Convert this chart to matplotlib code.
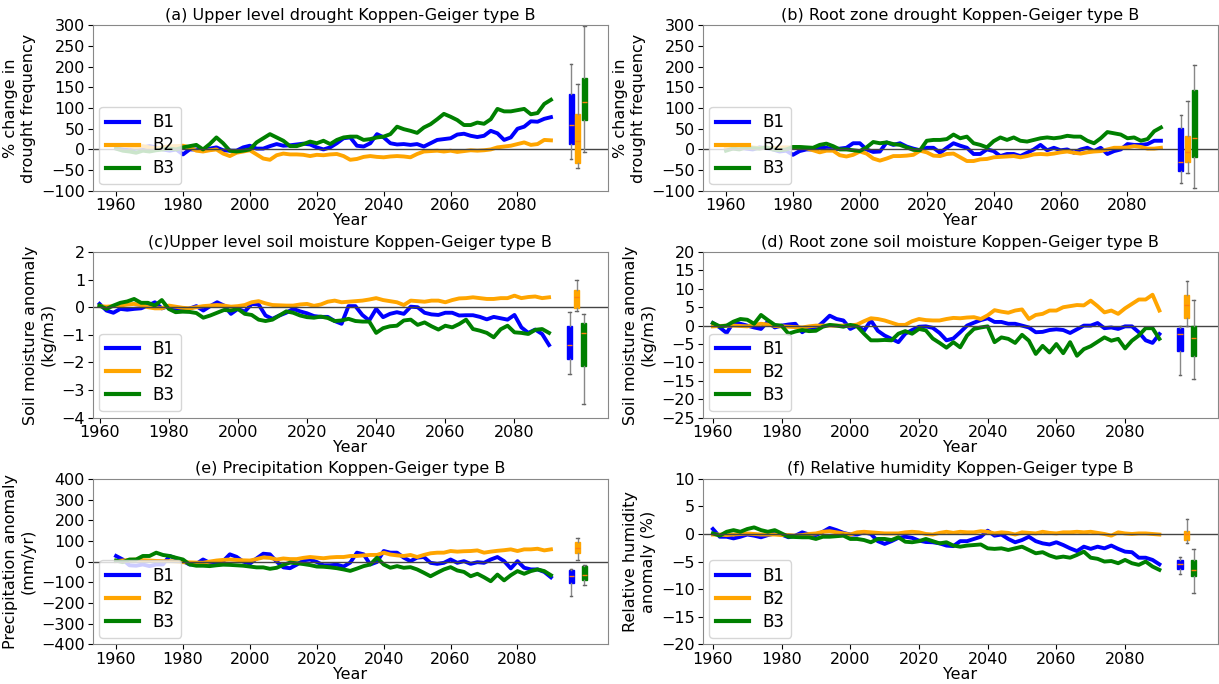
import numpy as np
import matplotlib
matplotlib.use("Agg")
import matplotlib.pyplot as plt

# yearly values sampled every 2 years, 1960-2090
YEARS = np.arange(1960, 2091, 2)
SERIES_NAMES = ["B1", "B2", "B3"]
COLORS = ["blue", "orange", "green"]
BOX_POS = [2096, 2098, 2100]

# (a) upper level drought, % change
a_b1 = [3, 0, -2, 2, 5, 8, 5, 0, -3, 0,
        -12, 0, 0, -2, 2, 5, -2, -3, -3, 5,
        9, 2, 2, 8, 13, 9, 10, 12, 14, 12,
        5, 0, 5, 15, 27, 29, 9, 7, 15, 37,
        29, 15, 12, 13, 11, 13, 7, 15, 23, 25,
        27, 36, 38, 33, 30, 33, 45, 39, 23, 29,
        50, 55, 68, 67, 74, 78]
a_b2 = [10, 10, 8, 5, 8, 5, 3, 5, 8, 8,
        9, 5, -3, -5, -2, 0, -10, -16, -8, -5,
        -2, -12, -22, -25, -14, -10, -12, -12, -13, -16,
        -13, -14, -12, -11, -16, -25, -23, -18, -16, -18,
        -19, -17, -16, -17, -19, -11, -5, -4, -3, -5,
        -3, -6, -4, -2, -3, -2, 0, 5, 7, 9,
        13, 17, 11, 13, 23, 22]
a_b3 = [2, -3, -5, -8, -3, -5, -2, 0, 2, 0,
        5, 8, 11, 0, 13, 29, 15, -3, -5, -3,
        0, 17, 27, 37, 29, 21, 8, 8, 13, 19,
        15, 21, 13, 23, 29, 31, 31, 23, 25, 29,
        31, 37, 55, 49, 45, 40, 53, 61, 73, 86,
        79, 71, 59, 59, 65, 62, 73, 98, 92, 92,
        95, 98, 85, 88, 110, 120]

# (b) root zone drought, % change
b_b1 = [0, 3, 5, 2, 0, 5, 3, 0, -5, -3,
        -13, -4, 0, 0, 4, 4, 0, 2, 4, 15,
        15, 0, -6, -5, 17, 11, 15, 7, 2, -2,
        4, 4, -8, 4, 15, 9, 4, -11, -11, 0,
        -4, -16, -11, -11, -16, -8, 0, 11, -2, 4,
        -2, 0, -8, 0, 4, -4, 4, -11, -4, 0,
        13, 11, 11, 13, 21, 21]
b_b2 = [5, 3, 5, 8, 5, 3, 5, 3, 5, 5,
        5, 5, 3, -2, -7, -3, -3, -14, -17, -13,
        -5, -10, -22, -27, -22, -16, -16, -15, -13, -3,
        -7, -15, -16, -11, -10, -19, -28, -28, -24, -23,
        -19, -18, -17, -16, -19, -16, -12, -11, -12, -10,
        -7, -5, -8, -10, -7, -5, -4, 0, 4, 4,
        5, 8, 6, 2, 2, 4]
b_b3 = [-3, 2, 0, 5, 3, 2, 5, 0, -2, 0,
        6, 6, 5, 4, 11, 14, 8, 0, 0, -2,
        -4, 5, 18, 15, 17, 13, 11, 5, -1, -2,
        21, 23, 23, 25, 36, 27, 31, 15, 11, 5,
        20, 29, 23, 29, 21, 19, 23, 27, 29, 27,
        29, 33, 31, 31, 21, 15, 27, 42, 39, 36,
        27, 29, 21, 25, 44, 53]

# (c) upper level soil moisture anomaly, kg/m3
c_b1 = [0.12, -0.12, -0.2, -0.06, -0.09, -0.06, -0.04, 0.06, 0.18, -0.04,
        0.04, -0.09, -0.1, -0.05, 0.04, -0.12, 0.04, 0.18, 0.06, -0.24,
        -0.06, -0.16, 0.12, 0.1, -0.3, -0.42, -0.3, -0.2, -0.06, -0.15,
        -0.22, -0.32, -0.35, -0.35, -0.5, -0.6, 0.04, 0.04, -0.28, -0.48,
        -0.06, -0.36, -0.24, -0.18, -0.24, 0.02, 0.0, -0.2, -0.26, -0.28,
        -0.2, -0.2, -0.3, -0.29, -0.29, -0.35, -0.44, -0.35, -0.4, -0.45,
        -0.28, -0.73, -0.93, -0.81, -0.97, -1.37]
c_b2 = [0.04, 0.02, 0.04, 0.06, 0.1, 0.12, 0.08, 0.0, -0.04, -0.04,
        0.06, 0.02, -0.02, -0.04, 0.0, 0.04, 0.06, 0.08, 0.06, 0.02,
        0.04, 0.08, 0.18, 0.22, 0.14, 0.08, 0.07, 0.06, 0.06, 0.1,
        0.12, 0.05, 0.1, 0.2, 0.24, 0.18, 0.2, 0.22, 0.24, 0.28,
        0.33, 0.26, 0.22, 0.18, 0.08, 0.24, 0.22, 0.2, 0.24, 0.24,
        0.18, 0.26, 0.32, 0.33, 0.36, 0.33, 0.3, 0.3, 0.33, 0.33,
        0.42, 0.33, 0.37, 0.39, 0.33, 0.36]
c_b3 = [0.06, -0.06, 0.06, 0.16, 0.21, 0.3, 0.16, 0.16, 0.06, 0.26,
        -0.06, -0.18, -0.16, -0.17, -0.21, -0.38, -0.3, -0.2, -0.1, -0.12,
        -0.06, -0.24, -0.28, -0.45, -0.5, -0.45, -0.3, -0.15, -0.2, -0.3,
        -0.36, -0.38, -0.34, -0.39, -0.5, -0.48, -0.42, -0.5, -0.52, -0.52,
        -0.93, -0.76, -0.69, -0.67, -0.48, -0.45, -0.64, -0.55, -0.69, -0.81,
        -0.67, -0.73, -0.61, -0.45, -0.79, -0.85, -0.93, -1.09, -0.8, -0.67,
        -0.91, -0.93, -0.97, -0.82, -0.79, -0.93]

# (d) root zone soil moisture anomaly, kg/m3
d_b1 = [0.7, -0.5, -2.0, 1.0, 0.5, 0.0, -0.5, -0.9, 1.1, -0.5,
        0.0, 0.3, 0.5, -1.8, -0.5, -0.7, 0.9, 2.7, 1.8, 1.4,
        -0.9, 0.0, -1.4, 1.4, -1.4, -2.7, -3.6, -4.5, -2.2, -1.2,
        -0.3, -0.2, -0.6, -2.0, -4.0, -3.5, -1.8, 0.0, 0.8, 1.5,
        2.0, 1.0, 1.0, 0.5, 0.5, 0.0, -0.5, -1.8, -1.7, -1.2,
        -1.0, -1.2, -2.0, -1.0, 0.0, 0.0, 0.7, -0.7, -0.5, -0.9,
        -0.2, -0.2, -1.8, -4.0, -4.7, -2.3]
d_b2 = [-0.2, -0.1, 0.0, 0.0, -0.1, -0.2, 0.2, 0.5, 0.3, -0.1,
        -0.2, -0.3, -0.4, -0.5, -0.2, 0.0, 0.0, 0.0, 0.0, 0.0,
        0.0, 0.3, 1.2, 2.0, 1.8, 1.4, 0.8, 0.2, 0.2, 1.2,
        1.8, 1.5, 1.4, 1.4, 1.8, 2.1, 2.0, 2.2, 2.3, 1.8,
        2.8, 4.2, 3.8, 3.5, 4.1, 4.4, 1.8, 2.9, 3.2, 4.1,
        4.1, 5.0, 5.3, 5.6, 5.5, 6.8, 5.3, 3.6, 4.1, 3.2,
        4.7, 5.9, 7.1, 7.1, 8.4, 4.1]
d_b3 = [0.7, -0.2, 0.0, 1.1, 1.8, 1.6, 0.5, 2.9, 1.5, 0.2,
        0.0, -2.2, -1.6, -1.2, -1.5, -1.4, -0.3, 0.2, 0.0, -0.3,
        0.2, -0.2, -2.2, -4.0, -4.0, -3.9, -4.0, -2.2, -1.5, -2.2,
        -0.9, -1.3, -3.5, -4.7, -6.0, -4.5, -5.9, -2.7, -0.9, -0.5,
        -0.2, -4.5, -3.2, -3.6, -4.7, -2.5, -4.1, -7.7, -5.5, -7.3,
        -5.0, -7.5, -4.5, -8.2, -6.4, -5.6, -4.4, -3.2, -4.1, -3.6,
        -6.2, -4.1, -2.7, -0.7, -0.7, -3.6]

# (e) precipitation anomaly, mm/yr
e_b1 = [27, 10, -18, -20, -14, -22, -14, -14, 27, 15,
        2, -14, -11, 10, -6, -14, 2, 35, 23, 0,
        -10, 15, 38, 35, 0, -28, -32, -15, 6, 10,
        -2, -18, -18, -15, -24, -5, 43, 35, -14, -2,
        51, 43, 43, 19, 2, 19, 22, -6, -11, -6,
        10, -6, 2, -11, -3, -6, 10, 22, 2, -33,
        2, -30, -38, -38, -50, -76]
e_b2 = [2, 5, 8, 10, 7, 5, 3, 2, 2, 0,
        -3, -4, -5, -6, 0, 5, 8, 10, 8, 6,
        5, 12, 20, 18, 10, 15, 12, 12, 18, 22,
        19, 16, 20, 22, 22, 27, 27, 30, 32, 32,
        43, 34, 30, 27, 32, 22, 32, 40, 43, 43,
        51, 48, 50, 51, 54, 43, 48, 52, 55, 59,
        51, 59, 59, 62, 54, 59]
e_b3 = [5, -3, 10, 10, 27, 27, 43, 32, 27, 18,
        10, -14, -20, -20, -22, -18, -15, -16, -18, -20,
        -24, -28, -28, -35, -30, -16, -5, -8, -12, -17,
        -24, -25, -28, -32, -38, -45, -34, -22, -14, 19,
        -14, -30, -22, -30, -27, -38, -54, -71, -54, -38,
        -27, -43, -50, -71, -59, -76, -95, -63, -91, -66,
        -46, -59, -46, -38, -46, -66]

# (f) relative humidity anomaly, %
f_b1 = [0.9, -0.5, -0.5, -0.8, -0.5, -0.1, -0.3, -0.6, -0.2, 0.1,
        -0.1, -0.6, -0.3, 0.3, -0.1, -0.2, 0.4, 1.1, 0.7, 0.2,
        -0.1, -0.1, 0.3, 0.0, -1.3, -1.8, -1.3, -0.7, -0.5, -0.7,
        -1.2, -1.45, -1.5, -1.7, -2.1, -2.2, -1.3, -1.3, -0.9, -0.5,
        0.6, -0.3, -0.1, -0.9, -1.5, -1.1, -0.5, -1.3, -1.7, -1.9,
        -1.5, -2.0, -2.6, -3.1, -2.3, -2.7, -2.3, -2.6, -2.1, -2.7,
        -3.2, -3.3, -4.3, -4.3, -4.7, -5.5]
f_b2 = [-0.1, -0.1, -0.2, -0.1, 0.0, 0.1, 0.0, -0.1, -0.1, -0.1,
        -0.2, -0.2, -0.3, -0.2, 0.0, 0.1, 0.4, 0.5, 0.3, 0.1,
        -0.1, 0.3, 0.4, 0.3, 0.2, 0.1, 0.1, 0.1, 0.3, 0.4,
        0.3, 0.0, -0.1, 0.2, 0.4, 0.2, 0.4, 0.3, 0.3, 0.5,
        0.4, 0.1, 0.3, 0.2, -0.1, 0.3, 0.2, 0.1, 0.4, 0.2,
        0.1, 0.3, 0.3, 0.4, 0.3, 0.4, 0.2, 0.0, -0.3, 0.3,
        0.1, 0.0, 0.1, 0.1, 0.0, -0.1]
f_b3 = [0.1, -0.3, 0.4, 0.7, 0.4, 0.9, 1.2, 0.7, 0.4, 0.7,
        0.1, -0.5, -0.55, -0.6, -0.6, -0.9, -0.5, -0.5, -0.4, -0.3,
        -0.9, -0.9, -1.1, -1.5, -0.9, -0.9, -1.1, -0.6, -1.4, -1.5,
        -1.3, -0.9, -1.3, -1.7, -1.5, -2.1, -2.3, -2.1, -2.0, -1.9,
        -2.6, -2.7, -2.6, -2.9, -2.6, -2.3, -2.9, -3.5, -3.3, -3.9,
        -4.3, -4.1, -4.3, -3.8, -3.2, -4.3, -4.5, -5.0, -4.9, -5.3,
        -4.7, -5.3, -5.6, -5.0, -5.9, -6.5]

# end-of-century box statistics: (whislo, q1, median, q3, whishi)
a_box = [(-23, 13, 60, 134, 207), (-45, -33, 20, 86, 159), (-7, 71, 114, 173, 298)]
b_box = [(-80, -53, -31, 52, 84), (-56, -31, -5, 33, 118), (-94, -18, 28, 144, 205)]
c_box = [(-2.42, -1.88, -1.37, -0.67, -0.16), (-0.12, -0.04, 0.36, 0.61, 1.0),
         (-3.52, -2.12, -0.95, -0.57, -0.24)]
d_box = [(-13.5, -6.8, -2.3, -0.7, 0.0), (0.0, 2.0, 5.5, 8.4, 12.0), (-14.5, -8.2, -3.5, -0.2, 7.1)]
e_box = [(-168, -103, -71, -43, -38), (10, 43, 67, 96, 113), (-111, -87, -66, -22, -17)]
f_box = [(-7.3, -6.3, -5.5, -4.7, -4.1), (-1.7, -1.1, 0.0, 0.6, 2.7), (-10.75, -7.7, -6.5, -4.7, -2.7)]

panels = [
    ("(a) Upper level drought Koppen-Geiger type B", "% change in\ndrought frequency",
     [a_b1, a_b2, a_b3], a_box, (-100, 300), 50, (1953, 2107)),
    ("(b) Root zone drought Koppen-Geiger type B", "% change in\ndrought frequency",
     [b_b1, b_b2, b_b3], b_box, (-100, 300), 50, (1953, 2107)),
    ("(c)Upper level soil moisture Koppen-Geiger type B", "Soil moisture anomaly\n(kg/m3)",
     [c_b1, c_b2, c_b3], c_box, (-4, 2), 1, (1958, 2107)),
    ("(d) Root zone soil moisture Koppen-Geiger type B", "Soil moisture anomaly\n(kg/m3)",
     [d_b1, d_b2, d_b3], d_box, (-25, 20), 5, (1957, 2107)),
    ("(e) Precipitation Koppen-Geiger type B", "Precipitation anomaly\n(mm/yr)",
     [e_b1, e_b2, e_b3], e_box, (-400, 400), 100, (1953, 2107)),
    ("(f) Relative humidity Koppen-Geiger type B", "Relative humidity\nanomaly (%)",
     [f_b1, f_b2, f_b3], f_box, (-20, 10), 5, (1957, 2107)),
]

plt.rcParams["font.family"] = "DejaVu Sans"
plt.rcParams["font.size"] = 11.5

fig, axes = plt.subplots(3, 2, figsize=(12.19, 6.84), dpi=100)
fig.subplots_adjust(left=0.076, right=0.999, bottom=0.058, top=0.963,
                    wspace=0.184, hspace=0.37)

for ax, (title, ylab, lines, boxes, ylim, ystep, xlim) in zip(axes.flat, panels):
    for vals, name, col in zip(lines, SERIES_NAMES, COLORS):
        ax.plot(YEARS, vals, color=col, lw=2.8, label=name)
    ax.axhline(0, color="#444444", lw=1.0)

    stats = [dict(whislo=s[0], q1=s[1], med=s[2], q3=s[3], whishi=s[4]) for s in boxes]
    bp = ax.bxp(stats, positions=BOX_POS, widths=1.5, patch_artist=True,
                showfliers=False, manage_ticks=False,
                medianprops=dict(color="#ff7f0e", lw=1.0),
                whiskerprops=dict(color="#888888", lw=1.0),
                capprops=dict(color="#666666", lw=1.0))
    for patch, col in zip(bp["boxes"], COLORS):
        patch.set_facecolor(col)
        patch.set_edgecolor(col)

    ax.set_title(title, fontsize=11.5, pad=4)
    ax.set_ylabel(ylab)
    ax.set_xlabel("Year", labelpad=0)
    ax.set_xlim(*xlim)
    ax.set_ylim(*ylim)
    ax.set_yticks(np.arange(ylim[0], ylim[1] + ystep / 2, ystep))
    ax.set_xticks(np.arange(1960, 2081, 20))
    ax.tick_params(labelsize=11.5, pad=2)
    for sp in ax.spines.values():
        sp.set_color("#888888")
    leg = ax.legend(loc="lower left", fontsize=12, framealpha=0.8,
                    handlelength=2.0, borderaxespad=0.4, labelspacing=0.3)
    for h in leg.get_lines():
        h.set_linewidth(3)

fig.savefig("out.png", dpi=100)
